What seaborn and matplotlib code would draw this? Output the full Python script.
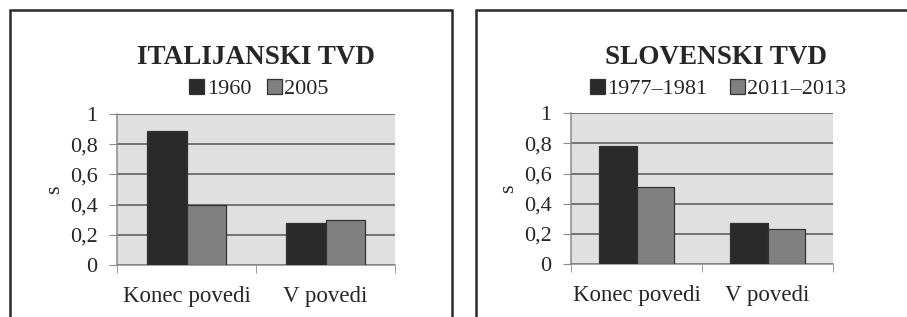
import numpy as np
import pandas as pd
import matplotlib.pyplot as plt
import seaborn as sns
from matplotlib.patches import Rectangle
from matplotlib.ticker import FuncFormatter

# podatki
categories = ['Konec povedi', 'V povedi']
it_periods = ['1960', '2005']
it_values = [[0.89, 0.28], [0.40, 0.30]]
sl_periods = ['1977–1981', '2011–2013']
sl_values = [[0.78, 0.27], [0.51, 0.23]]
titles = ['ITALIJANSKI TVD', 'SLOVENSKI TVD']
bar_colors = ['#2a2a2a', '#808080']

sns.set_style('white')
plt.rcParams['font.family'] = ['Liberation Serif', 'DejaVu Serif']


def long_df(periods, values):
    rows = []
    for p, vals in zip(periods, values):
        for c, v in zip(categories, vals):
            rows.append({'pozicija': c, 'obdobje': p, 's': v})
    return pd.DataFrame(rows)


fig = plt.figure(figsize=(9.07, 3.17), dpi=100)

# okvirja grafov
fig.add_artist(Rectangle((10 / 907, -0.05), 442 / 907, 1.018, transform=fig.transFigure,
                         fill=False, edgecolor='#2b2b2b', lw=1.8))
fig.add_artist(Rectangle((476 / 907, -0.05), 0.6, 1.018, transform=fig.transFigure,
                         fill=False, edgecolor='#2b2b2b', lw=1.8))

axes_pos = [[117 / 907, 0.164, 278 / 907, 0.476],
            [571 / 907, 0.167, 262 / 907, 0.476]]
title_x = [256 / 907, 716 / 907]
legend_x = [259, 718]
colspace = [0.7, 1.0]

for i, (periods, values) in enumerate([(it_periods, it_values), (sl_periods, sl_values)]):
    ax = fig.add_axes(axes_pos[i])
    df = long_df(periods, values)
    sns.barplot(data=df, x='pozicija', y='s', hue='obdobje', palette=bar_colors,
                width=0.57, edgecolor='#333333', linewidth=0.9, ax=ax, zorder=3)
    ax.set_facecolor('#e0e0e0')
    ax.set_ylim(0, 1)
    ax.set_xlim(-0.5, 1.5)
    ax.set_yticks(np.arange(0, 1.01, 0.2))
    ax.yaxis.set_major_formatter(FuncFormatter(lambda v, p: f'{v:g}'.replace('.', ',')))
    ax.grid(axis='y', color='#555555', lw=1.1, zorder=1)
    ax.set_axisbelow(True)
    for s in ['top', 'right']:
        ax.spines[s].set_visible(False)
    for s in ['left', 'bottom']:
        ax.spines[s].set_color('#8a8a8a')
        ax.spines[s].set_linewidth(1.1)
    ax.tick_params(axis='y', length=6, color='#8a8a8a', labelsize=16, pad=8, left=True)
    ax.tick_params(axis='x', which='major', length=0, labelsize=16.5, pad=15)
    ax.set_xticks([-0.5, 0.5, 1.5], minor=True)
    ax.tick_params(axis='x', which='minor', length=6, color='#8a8a8a', bottom=True)
    ax.set_xlabel('')
    ax.set_ylabel('s', fontsize=16, labelpad=4)

    handles, labels = ax.get_legend_handles_labels()
    ax.legend(handles, labels, loc='center', ncol=2, frameon=False, fontsize=16,
              bbox_to_anchor=(legend_x[i] / 907, 1 - 89 / 317),
              bbox_transform=fig.transFigure,
              handlelength=0.68, handleheight=0.68, handletextpad=0.1,
              columnspacing=colspace[i], borderpad=0)
    fig.text(title_x[i], 1 - 57 / 317, titles[i], ha='center', va='center',
             fontsize=19.5, fontweight='bold')

plt.savefig('out.png', dpi=100)
